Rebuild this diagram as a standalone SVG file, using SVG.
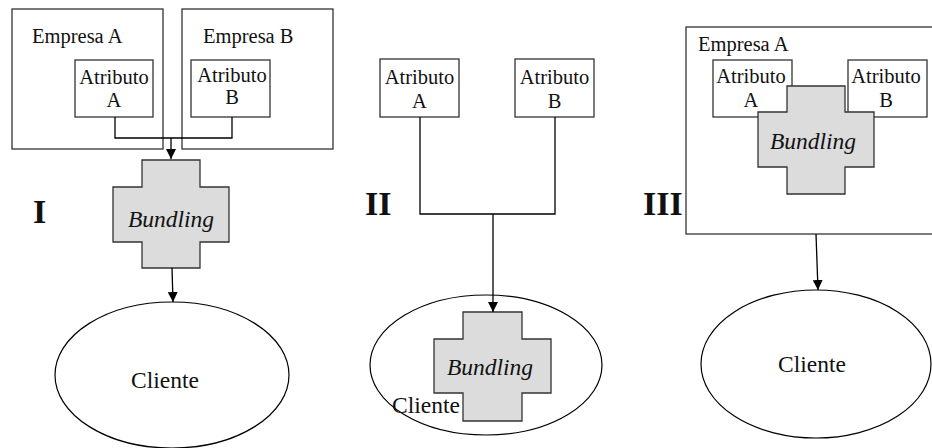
<svg xmlns="http://www.w3.org/2000/svg" width="932" height="448" viewBox="0 0 932 448">
  <defs>
    <marker id="arrow" viewBox="0 0 10 10" refX="10" refY="5" markerWidth="10" markerHeight="10" markerUnits="userSpaceOnUse" orient="auto">
      <path d="M0,0 L10,5 L0,10 Z" fill="#000"/>
    </marker>
    <style>
      .box { fill: #fff; stroke: #333; stroke-width: 1.3; }
      .cross { fill: #dcdcdc; stroke: #333; stroke-width: 1.3; }
      .ell { fill: #fff; stroke: #000; stroke-width: 1.2; }
      .wire { fill: none; stroke: #000; stroke-width: 1.3; }
      .arr { fill: none; stroke: #000; stroke-width: 1.3; marker-end: url(#arrow); }
      text { font-family: "Liberation Serif", "Times New Roman", serif; fill: #111; }
      .lbl { font-size: 20.5px; }
      .cli { font-size: 23.5px; }
      .bun { font-size: 23.5px; font-style: italic; }
      .num { font-size: 34px; font-weight: bold; }
      .mid { text-anchor: middle; }
    </style>
  </defs>
  <rect width="932" height="448" fill="#fff"/>

  <!-- Panel I -->
  <g id="empresa-a-1">
    <rect class="box" x="12" y="9" width="151" height="140"/>
    <text class="lbl" x="32" y="43">Empresa A</text>
  </g>
  <g id="empresa-b-1">
    <rect class="box" x="182" y="9" width="151" height="140"/>
    <text class="lbl" x="203" y="43">Empresa B</text>
  </g>
  <g id="atributo-a-1">
    <rect class="box" x="75" y="60" width="78" height="57"/>
    <text class="lbl mid" x="114" y="84">Atributo</text>
    <text class="lbl mid" x="114" y="107">A</text>
  </g>
  <g id="atributo-b-1">
    <rect class="box" x="191" y="60" width="79" height="57"/>
    <text class="lbl mid" x="232" y="82">Atributo</text>
    <text class="lbl mid" x="232" y="104">B</text>
  </g>
  <g id="bundling-1">
    <polygon class="cross" points="142,160 200,160 200,187 229,187 229,242 200,242 200,268 142,268 142,242 113,242 113,187 142,187"/>
    <text class="bun mid" x="171" y="227">Bundling</text>
  </g>
  <g id="cliente-1">
    <ellipse class="ell" cx="172" cy="375" rx="117" ry="73"/>
    <text class="cli mid" x="165" y="388">Cliente</text>
  </g>
  <text class="num" x="33" y="223">I</text>

  <!-- Panel II -->
  <g id="atributo-a-2">
    <rect class="box" x="380" y="59" width="79" height="58"/>
    <text class="lbl mid" x="419.5" y="84">Atributo</text>
    <text class="lbl mid" x="419.5" y="108">A</text>
  </g>
  <g id="atributo-b-2">
    <rect class="box" x="515" y="59" width="79" height="58"/>
    <text class="lbl mid" x="554.5" y="84">Atributo</text>
    <text class="lbl mid" x="554.5" y="108">B</text>
  </g>
  <g id="cliente-2">
    <ellipse class="ell" cx="486" cy="365" rx="116" ry="70"/>
    <text class="cli" x="392" y="413">Cliente</text>
  </g>
  <g id="bundling-2">
    <polygon class="cross" points="463,312 522,312 522,339 551,339 551,393 522,393 522,421 463,421 463,393 434,393 434,339 463,339"/>
    <text class="bun mid" x="490" y="375">Bundling</text>
  </g>
  <text class="num" x="365" y="215">II</text>

  <!-- Panel III -->
  <g id="empresa-a-3">
    <rect class="box" x="686" y="27" width="260" height="207"/>
    <text class="lbl" x="698" y="51">Empresa A</text>
  </g>
  <g id="atributo-a-3">
    <rect class="box" x="713" y="60" width="79" height="57"/>
    <text class="lbl mid" x="751" y="83">Atributo</text>
    <text class="lbl mid" x="751" y="107">A</text>
  </g>
  <g id="atributo-b-3">
    <rect class="box" x="848" y="60" width="79" height="57"/>
    <text class="lbl mid" x="886" y="83">Atributo</text>
    <text class="lbl mid" x="886" y="107">B</text>
  </g>
  <g id="bundling-3">
    <polygon class="cross" points="787,86 845,86 845,112 874,112 874,167 845,167 845,194 787,194 787,167 758,167 758,112 787,112"/>
    <text class="bun mid" x="813" y="149">Bundling</text>
  </g>
  <g id="cliente-3">
    <ellipse class="ell" cx="816" cy="364" rx="115" ry="74"/>
    <text class="cli mid" x="812" y="372">Cliente</text>
  </g>
  <text class="num" x="643" y="215">III</text>

  <!-- Connectors -->
  <g id="connectors">
    <polyline class="wire" points="115,117 115,138 232,138 232,117"/>
    <line class="arr" x1="171" y1="138" x2="171" y2="159"/>
    <line class="arr" x1="172" y1="268" x2="173" y2="302"/>
    <polyline class="wire" points="420,117 420,214 555,214 555,117"/>
    <line class="arr" x1="493" y1="214" x2="493" y2="312"/>
    <line class="arr" x1="816" y1="234" x2="818" y2="290"/>
  </g>
</svg>
